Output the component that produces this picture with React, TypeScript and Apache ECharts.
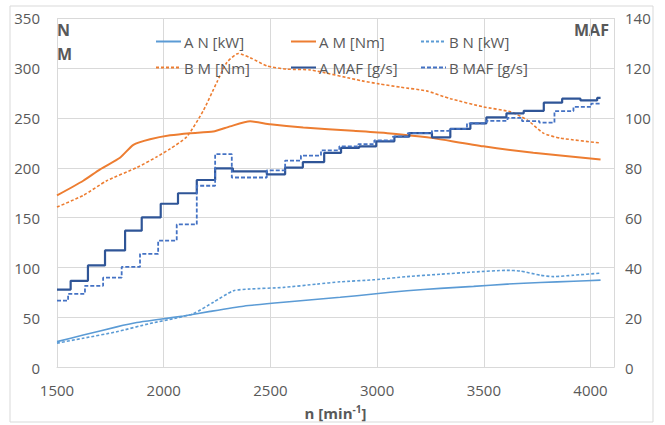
import React, { useEffect, useRef } from "react";
import * as echarts from "echarts";

// ---- Data (rpm, value) ----
const aNkW: [number, number][] = [
  [1500, 25.9], [1623, 32.5], [1780, 40.7], [1874, 45], [1983, 48.3], [2092, 51.6],
  [2218, 56.2], [2374, 61.4], [2561, 65.4], [2827, 70.3], [2983, 73.6], [3140, 76.9],
  [3296, 79.2], [3452, 81.2], [3609, 83.5], [3765, 85.1], [3921, 86.4], [4047, 87.5],
];
const bNkW: [number, number][] = [
  [1500, 24.4], [1623, 29.3], [1780, 35.8], [1936, 44.1], [2061, 49.6], [2139, 53.9],
  [2233, 65.4], [2327, 76.9], [2405, 78.6], [2561, 80.2], [2718, 83.5], [2827, 85.8],
  [2983, 87.8], [3140, 91], [3296, 93.4], [3452, 95.6], [3609, 97.3], [3671, 96.6],
  [3765, 92.4], [3827, 91], [3921, 92.4], [4047, 94.5],
];
const aMNm: [number, number][] = [
  [1500, 172.3], [1623, 187], [1702, 198.5], [1795, 210], [1858, 223], [1936, 228.5],
  [2030, 232.5], [2124, 234.7], [2232, 236.3], [2311, 241.5], [2405, 246.5], [2499, 243.5],
  [2654, 240.3], [2888, 237], [3048, 234.7], [3202, 231.4], [3263, 229.7], [3498, 221.5],
  [3732, 215], [4047, 208.3],
];
const bMNm: [number, number][] = [
  [1500, 160.7], [1623, 172.3], [1733, 187], [1874, 200.2], [1968, 211], [2030, 219],
  [2108, 231], [2185, 257], [2249, 285.6], [2296, 305.4], [2350, 314.5], [2405, 310.3],
  [2484, 302], [2577, 298.8], [2687, 298], [2930, 287], [3010, 284], [3109, 280.7],
  [3231, 277], [3343, 269.2], [3498, 261], [3625, 256], [3704, 247.8], [3779, 234.7],
  [3859, 229.7], [4047, 224.8],
];
// MAF steps: each point starts a new level
const aMAF: [number, number][] = [
  [1500, 31.2], [1564, 34.7], [1645, 40.9], [1725, 46.9], [1819, 54.8], [1897, 60.1],
  [1986, 65.6], [2067, 69.8], [2155, 75.1], [2241, 79.8], [2324, 78.6], [2483, 77.4],
  [2569, 80.1], [2652, 82.3], [2752, 86.0], [2831, 88.0], [2916, 88.6], [2996, 90.6],
  [3081, 92.5], [3151, 93.9], [3257, 92.2], [3343, 95.6], [3437, 97.8], [3512, 100.2],
  [3606, 101.8], [3687, 102.8], [3781, 106.1], [3867, 107.7], [3953, 107.0], [4031, 108.0],
  [4047, 108.0],
];
const bMAF: [number, number][] = [
  [1500, 26.8], [1552, 29.5], [1631, 32.7], [1716, 36.0], [1803, 40.3], [1889, 45.5],
  [1974, 50.8], [2061, 57.3], [2155, 72.8], [2241, 85.5], [2319, 76.1], [2483, 79.0],
  [2569, 82.9], [2643, 84.9], [2737, 87.0], [2823, 88.6], [2912, 89.5], [2987, 91.0],
  [3074, 92.5], [3144, 93.9], [3257, 94.8], [3338, 95.6], [3421, 97.8], [3512, 98.8],
  [3611, 100.0], [3679, 98.7], [3760, 98.1], [3831, 102.7], [3920, 104.4], [4003, 105.7],
  [4047, 105.7],
];

const FONT = "'Open Sans', 'Noto Sans', sans-serif";
const GRAY = "#595959";
const GRID = "#d9d9d9";
const LIGHT = "#5B9BD5";
const ORANGE = "#ED7D31";
const DARK = "#2F5597";
const MID = "#4472C4";

export default function App() {
  const ref = useRef<HTMLDivElement>(null);
  useEffect(() => {
    document.body.style.margin = "0";
    const chart = echarts.init(ref.current!, null, { renderer: "svg" });
    const legendItem = (name: string, left: number, top: number) => ({
      data: [name],
      left,
      top,
      itemWidth: 25,
      itemHeight: 10,
      itemGap: 0,
      padding: 0,
      itemStyle: { opacity: 0 },
      textStyle: { color: GRAY, fontSize: 15, fontFamily: FONT, padding: [0, 0, 0, -2] },
    });
    chart.setOption({
      animation: false,
      textStyle: { fontFamily: FONT },
      grid: { left: 57, right: 51, top: 18, bottom: 52, containLabel: false },
      legend: [
        legendItem("A N [kW]", 155, 34),
        legendItem("A M [Nm]", 290, 34),
        legendItem("B N [kW]", 420, 34),
        legendItem("B M [Nm]", 155, 60),
        legendItem("A MAF [g/s]", 290, 60),
        legendItem("B MAF [g/s]", 420, 60),
      ],
      graphic: [
        { type: "rect", shape: { x: 10, y: 6, width: 643, height: 416 }, style: { fill: "none", stroke: GRID, lineWidth: 1 }, silent: true },
        { type: "text", left: 57, top: 22, style: { text: "N", fill: GRAY, font: `bold 16px ${FONT}` } },
        { type: "text", left: 57, top: 46, style: { text: "M", fill: GRAY, font: `bold 16px ${FONT}` } },
        { type: "text", left: 574, top: 22, style: { text: "MAF", fill: GRAY, font: `bold 16px ${FONT}` } },
      ],
      xAxis: {
        type: "value",
        min: 1500,
        max: 4110,
        interval: 500,
        name: "{a|n [min}{s|-1}{a|]}",
        nameLocation: "middle",
        nameGap: 36,
        nameTextStyle: {
          rich: {
            a: { fontSize: 15, fontWeight: "bold", color: GRAY, fontFamily: FONT },
            s: { fontSize: 10, fontWeight: "bold", color: GRAY, fontFamily: FONT, verticalAlign: "top", padding: [0, 0, 8, 0] },
          },
        },
        axisLine: { show: true, lineStyle: { color: GRID } },
        axisTick: { show: false },
        axisLabel: { color: GRAY, fontSize: 15, margin: 15, showMaxLabel: false, formatter: (v: number) => String(v) },
        splitLine: { show: true, lineStyle: { color: GRID } },
      },
      yAxis: [
        {
          type: "value",
          min: 0,
          max: 350,
          interval: 50,
          axisLine: { show: false },
          axisTick: { show: false },
          axisLabel: { color: GRAY, fontSize: 15, margin: 17 },
          splitLine: { show: true, lineStyle: { color: GRID } },
        },
        {
          type: "value",
          min: 0,
          max: 140,
          interval: 20,
          position: "right",
          axisLine: { show: false },
          axisTick: { show: false },
          axisLabel: { color: GRAY, fontSize: 15, margin: 11 },
          splitLine: { show: false },
        },
      ],
      series: [
        { name: "A N [kW]", type: "line", data: aNkW, yAxisIndex: 0, symbol: "none", smooth: 0.2, lineStyle: { color: LIGHT, width: 1.6 }, itemStyle: { color: LIGHT }, z: 2 },
        { name: "A M [Nm]", type: "line", data: aMNm, yAxisIndex: 0, symbol: "none", smooth: 0.2, lineStyle: { color: ORANGE, width: 2 }, itemStyle: { color: ORANGE }, z: 2 },
        { name: "B N [kW]", type: "line", data: bNkW, yAxisIndex: 0, symbol: "none", smooth: 0.2, lineStyle: { color: LIGHT, width: 1.6, type: [3, 2] }, itemStyle: { color: LIGHT }, z: 2 },
        { name: "B M [Nm]", type: "line", data: bMNm, yAxisIndex: 0, symbol: "none", smooth: 0.2, lineStyle: { color: ORANGE, width: 1.6, type: [3, 2] }, itemStyle: { color: ORANGE }, z: 2 },
        { name: "A MAF [g/s]", type: "line", data: aMAF, yAxisIndex: 1, symbol: "none", step: "end", lineStyle: { color: DARK, width: 2.2 }, itemStyle: { color: DARK }, z: 3 },
        { name: "B MAF [g/s]", type: "line", data: bMAF, yAxisIndex: 1, symbol: "none", step: "end", lineStyle: { color: MID, width: 1.8, type: [4, 2] }, itemStyle: { color: MID }, z: 3 },
      ],
    });
    return () => chart.dispose();
  }, []);
  return <div ref={ref} style={{ width: 665, height: 425 }} />;
}
